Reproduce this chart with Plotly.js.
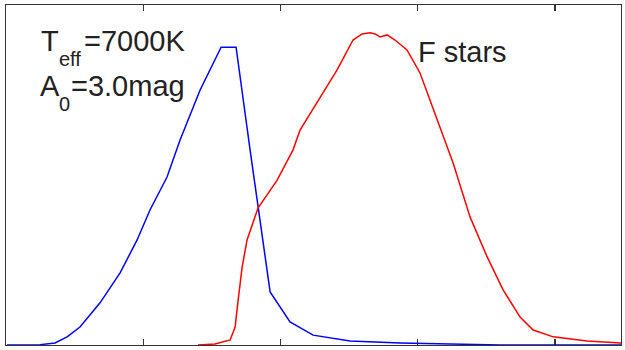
<!DOCTYPE html>
<html>
<head>
<meta charset="utf-8">
<script src="https://cdn.plot.ly/plotly-3.0.1.min.js"></script>
<style>
html,body{margin:0;padding:0;background:#fff;}
#chart{width:625px;height:350px;}
</style>
</head>
<body>
<div id="chart"></div>
<script>
// Blue curve: T_eff = 7000K, A0 = 3.0 mag (arbitrary x units, tick spacing 1)
var blueX = [0.007, 0.248, 0.357, 0.445, 0.539, 0.685, 0.831, 0.955, 1.049, 1.173, 1.268, 1.414, 1.567, 1.676, 1.778, 1.836, 1.924, 2.069, 2.237, 2.507, 2.872, 3.236, 3.601, 4.480];
var blueY = [0.000, 0.001, 0.006, 0.024, 0.053, 0.124, 0.212, 0.309, 0.397, 0.494, 0.603, 0.750, 0.876, 0.876, 0.574, 0.403, 0.156, 0.068, 0.029, 0.012, 0.006, 0.003, 0.000, 0.000];
// Red curve: F stars
var redX = [1.399, 1.523, 1.633, 1.669, 1.691, 1.720, 1.756, 1.836, 1.975, 2.091, 2.142, 2.288, 2.412, 2.528, 2.594, 2.652, 2.689, 2.725, 2.776, 2.834, 2.921, 3.016, 3.089, 3.213, 3.257, 3.381, 3.505, 3.621, 3.745, 3.840, 3.986, 4.233, 4.480];
var redY = [0.000, 0.003, 0.015, 0.053, 0.132, 0.229, 0.309, 0.403, 0.485, 0.574, 0.632, 0.729, 0.809, 0.897, 0.915, 0.918, 0.915, 0.906, 0.912, 0.897, 0.868, 0.800, 0.721, 0.588, 0.535, 0.376, 0.259, 0.162, 0.082, 0.044, 0.024, 0.012, 0.006];
var xTicks = [1, 2, 3, 4];

var traces = [
  {x: blueX, y: blueY, type: 'scatter', mode: 'lines', line: {color: '#0000ff', width: 1.5}, hoverinfo: 'skip'},
  {x: redX, y: redY, type: 'scatter', mode: 'lines', line: {color: '#ff0000', width: 1.5}, hoverinfo: 'skip'}
];

var font = 'Liberation Sans, Arial, Helvetica, sans-serif';
function px(x) { return (x - 6) / 615; }
function py(y) { return (345 - y) / 340; }
function ann(text, x, y, size) {
  return {xref: 'paper', yref: 'paper', x: px(x), y: py(y), xanchor: 'left', yanchor: 'middle',
          text: text, showarrow: false, font: {family: font, size: size, color: '#222'}};
}

var layout = {
  width: 625, height: 350,
  margin: {l: 6, r: 4, t: 5, b: 5, pad: 0},
  paper_bgcolor: '#fff', plot_bgcolor: '#fff',
  showlegend: false,
  xaxis: {
    range: [0, 4.48], showgrid: false, zeroline: false,
    showline: true, linecolor: '#333', linewidth: 1.3, mirror: 'ticks',
    ticks: 'inside', ticklen: 6, tickwidth: 1.3, tickcolor: '#333',
    tickvals: xTicks, showticklabels: false, layer: 'below traces', fixedrange: true
  },
  yaxis: {
    range: [0, 1.0], showgrid: false, zeroline: false,
    showline: true, linecolor: '#333', linewidth: 1.3, mirror: true,
    ticks: '', showticklabels: false, layer: 'below traces', fixedrange: true
  },
  annotations: [
    ann('T', 39, 41.5, 29),
    ann('eff', 57, 59.5, 20),
    ann('=7000K', 82, 41.5, 29),
    ann('A', 38, 86, 29),
    ann('0', 57, 104, 20),
    ann('=3.0mag', 69, 86, 29),
    ann('F stars', 416, 52.5, 29)
  ]
};

Plotly.newPlot('chart', traces, layout, {staticPlot: true, displayModeBar: false});
</script>
</body>
</html>
